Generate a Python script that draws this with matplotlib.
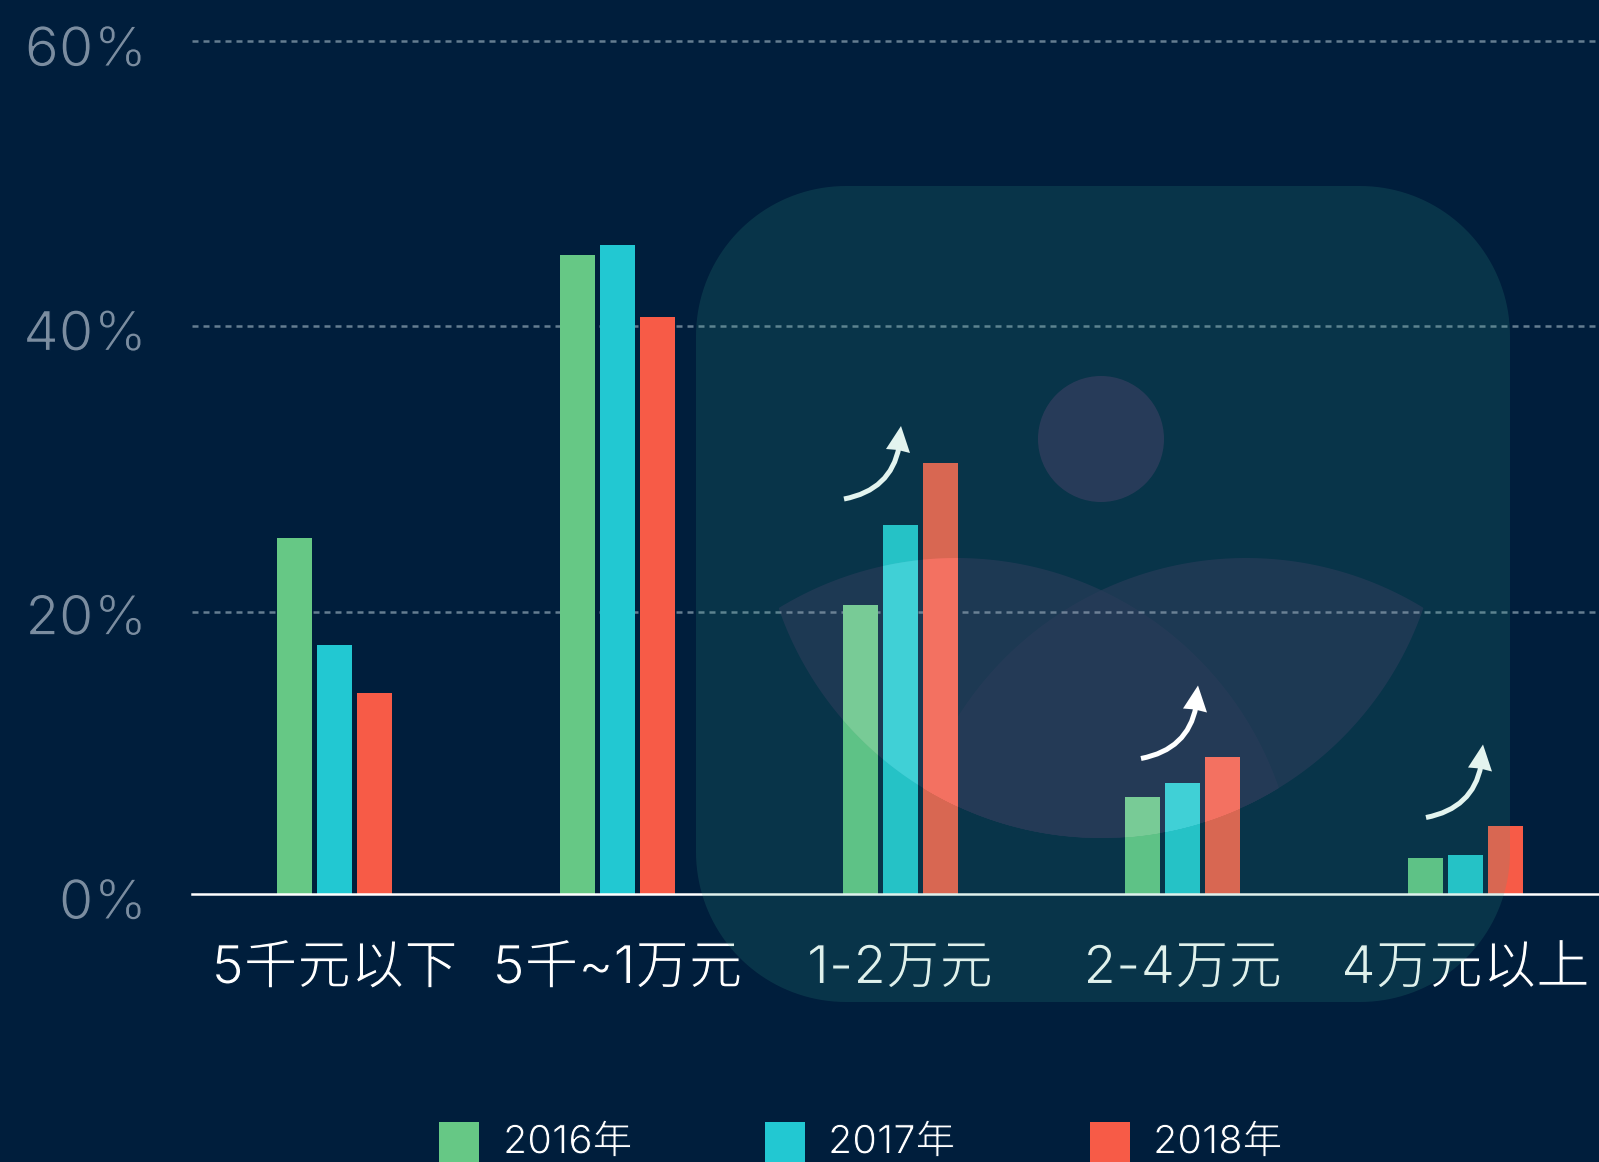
import numpy as np
import matplotlib
matplotlib.use("Agg")
import matplotlib.pyplot as plt
import matplotlib.patches as mpatches
import matplotlib.patheffects as pe
from matplotlib.path import Path
from matplotlib.transforms import ScaledTranslation

plt.rcParams["font.family"] = ["Inter", "Noto Sans CJK SC", "DejaVu Sans"]

categories = ["5千元以下", "5千~1万元", "1-2万元", "2-4万元", "4万元以上"]
years = ["2016年", "2017年", "2018年"]
v2016 = [25.0, 44.9, 20.3, 6.8, 2.5]
v2017 = [17.5, 45.6, 25.9, 7.8, 2.7]
v2018 = [14.1, 40.55, 30.3, 9.6, 4.75]
yticks = [0, 20, 40, 60]
ytick_labels = ["0%", "20%", "40%", "60%"]
grid_levels = [19.83, 39.93, 60]

W, H = 1599, 1162
BG = "#001e3c"
colors = ["#66c885", "#22c8d2", "#f75b47"]
light_colors = ["#78cb96", "#40d0d6", "#f37161"]
series = [v2016, v2017, v2018]

# no light CJK weight is installed, so glyphs get thinned with a background edge
thin = [pe.Stroke(linewidth=0.9, foreground=BG)]
thin_small = [pe.Stroke(linewidth=0.7, foreground=BG)]

fig = plt.figure(figsize=(W / 100, H / 100), dpi=100, facecolor=BG)

# main axes, y from 0% at 893.6px to 60% at 40.7px
y0, y60 = 893.6, 40.7
pos = [191.5 / W, 1 - y0 / H, 1 - 191.5 / W, (y0 - y60) / H]
xlim = (-0.506, 4.472)
ylim = (0, 60)
ax = fig.add_axes(pos, facecolor="none", zorder=0)
ax.set_xlim(*xlim)
ax.set_ylim(*ylim)

x = np.arange(len(categories))
width = 0.124
step = 0.1415
for i, vals in enumerate(series):
    ax.bar(x + (i - 1) * step, vals, width, color=colors[i], zorder=3)

for t in grid_levels:
    ax.axhline(t, color="#647d91", lw=1.8, ls=(0, (2.4, 2)), zorder=1, clip_on=False)

for s in ["top", "left", "right"]:
    ax.spines[s].set_visible(False)
ax.spines["bottom"].set_color("white")
ax.spines["bottom"].set_linewidth(1.8)
ax.spines["bottom"].set_zorder(4)
ax.set_xticks(x)
ax.set_xticklabels(categories, fontsize=38.5, color="white", path_effects=thin)
ax.set_yticks(yticks)
ax.set_yticklabels(ytick_labels, fontsize=39.5, color="#7b8da0", path_effects=thin)
ax.tick_params(axis="both", length=0)
ax.tick_params(axis="x", pad=36)
ax.tick_params(axis="y", pad=32)
for lab in ax.get_yticklabels():
    lab.set_transform(lab.get_transform() + ScaledTranslation(0, -6 / 100, fig.dpi_scale_trans))

# overlay in pixel coordinates for the picture placeholder
deco = fig.add_axes([0, 0, 1, 1], facecolor="none", zorder=1)
deco.set_xlim(0, W)
deco.set_ylim(H, 0)
deco.axis("off")


def rounded_rect(x0, y0_, x1, y1, r):
    t = np.linspace(0, np.pi / 2, 40)
    corners = [(x1 - r, y1 - r, 0), (x0 + r, y1 - r, np.pi / 2),
               (x0 + r, y0_ + r, np.pi), (x1 - r, y0_ + r, 1.5 * np.pi)]
    pts = [np.column_stack([cx + r * np.cos(t + a), cy + r * np.sin(t + a)]) for cx, cy, a in corners]
    pts = np.vstack(pts)
    return Path(np.vstack([pts, pts[:1]]), closed=True)


def lens(c1, c2, r):
    t = np.linspace(0, 2 * np.pi, 1440)
    ring = np.column_stack([np.cos(t), np.sin(t)]) * r
    a = ring + c1
    b = ring + c2
    a = a[np.hypot(*(a - c2).T) <= r]
    b = b[np.hypot(*(b - c1).T) <= r]
    pts = np.vstack([a, b])
    mid = pts.mean(axis=0)
    pts = pts[np.argsort(np.arctan2(*(pts - mid).T[::-1]))]
    return Path(np.vstack([pts, pts[:1]]), closed=True)


deco.add_patch(mpatches.PathPatch(rounded_rect(696, 186, 1510, 1002, 150),
                                  fc=(56 / 255, 168 / 255, 141 / 255, 0.16), ec="none"))
deco.add_patch(mpatches.Circle((1101, 439), 63, fc=(1, 0.43, 0.78, 0.13), ec="none"))

big = np.array([1101.0, 497.0])
left_c = np.array([956.5, 899.0])
right_c = np.array([1246.0, 899.0])
shapes = Path.make_compound_path(lens(big, left_c, 341), lens(big, right_c, 341))
deco.add_patch(mpatches.PathPatch(shapes, fc=(1, 0.43, 0.78, 0.085), ec="none"))
middle = deco.add_patch(mpatches.PathPatch(lens(left_c, right_c, 341), fc=(1, 0.43, 0.78, 0.03), ec="none"))
middle.set_clip_path(mpatches.Circle(big, 341, transform=deco.transData))

# bars look brighter where the shapes cross them
top = fig.add_axes(pos, facecolor="none", zorder=2)
top.set_xlim(*xlim)
top.set_ylim(*ylim)
top.axis("off")
for i, vals in enumerate(series):
    bars = top.bar(x + (i - 1) * step, vals, width, color=light_colors[i])
    for b in bars:
        b.set_clip_path(shapes, deco.transData)

# arrows and legend
front = fig.add_axes([0, 0, 1, 1], facecolor="none", zorder=3)
front.set_xlim(0, W)
front.set_ylim(H, 0)
front.axis("off")


def draw_arrow(tx, ty, color):
    shaft = Path([(tx, ty), (tx + 47, ty - 9), (tx + 55, ty - 52)],
                 [Path.MOVETO, Path.CURVE3, Path.CURVE3])
    front.add_patch(mpatches.PathPatch(shaft, fc="none", ec=color, lw=3.6, capstyle="butt"))
    head = [(tx + 57, ty - 73), (tx + 66, ty - 46), (tx + 54, ty - 49), (tx + 42, ty - 50)]
    front.add_patch(mpatches.Polygon(head, closed=True, fc=color, ec="none"))


draw_arrow(844, 499, "#e3f4ef")
draw_arrow(1141, 758.5, "#ffffff")
draw_arrow(1426, 817.5, "#e3f4ef")

# legend
swatch_x = [439, 765, 1090]
text_x = [503, 828, 1153]
for i, name in enumerate(years):
    front.add_patch(mpatches.Rectangle((swatch_x[i], 1122), 39.5, 40, fc=colors[i], ec="none"))
    front.text(text_x[i], 1143, name, fontsize=28.5, color="white", va="center", ha="left",
               path_effects=thin_small)

fig.savefig("out.png", dpi=100, facecolor=BG)
